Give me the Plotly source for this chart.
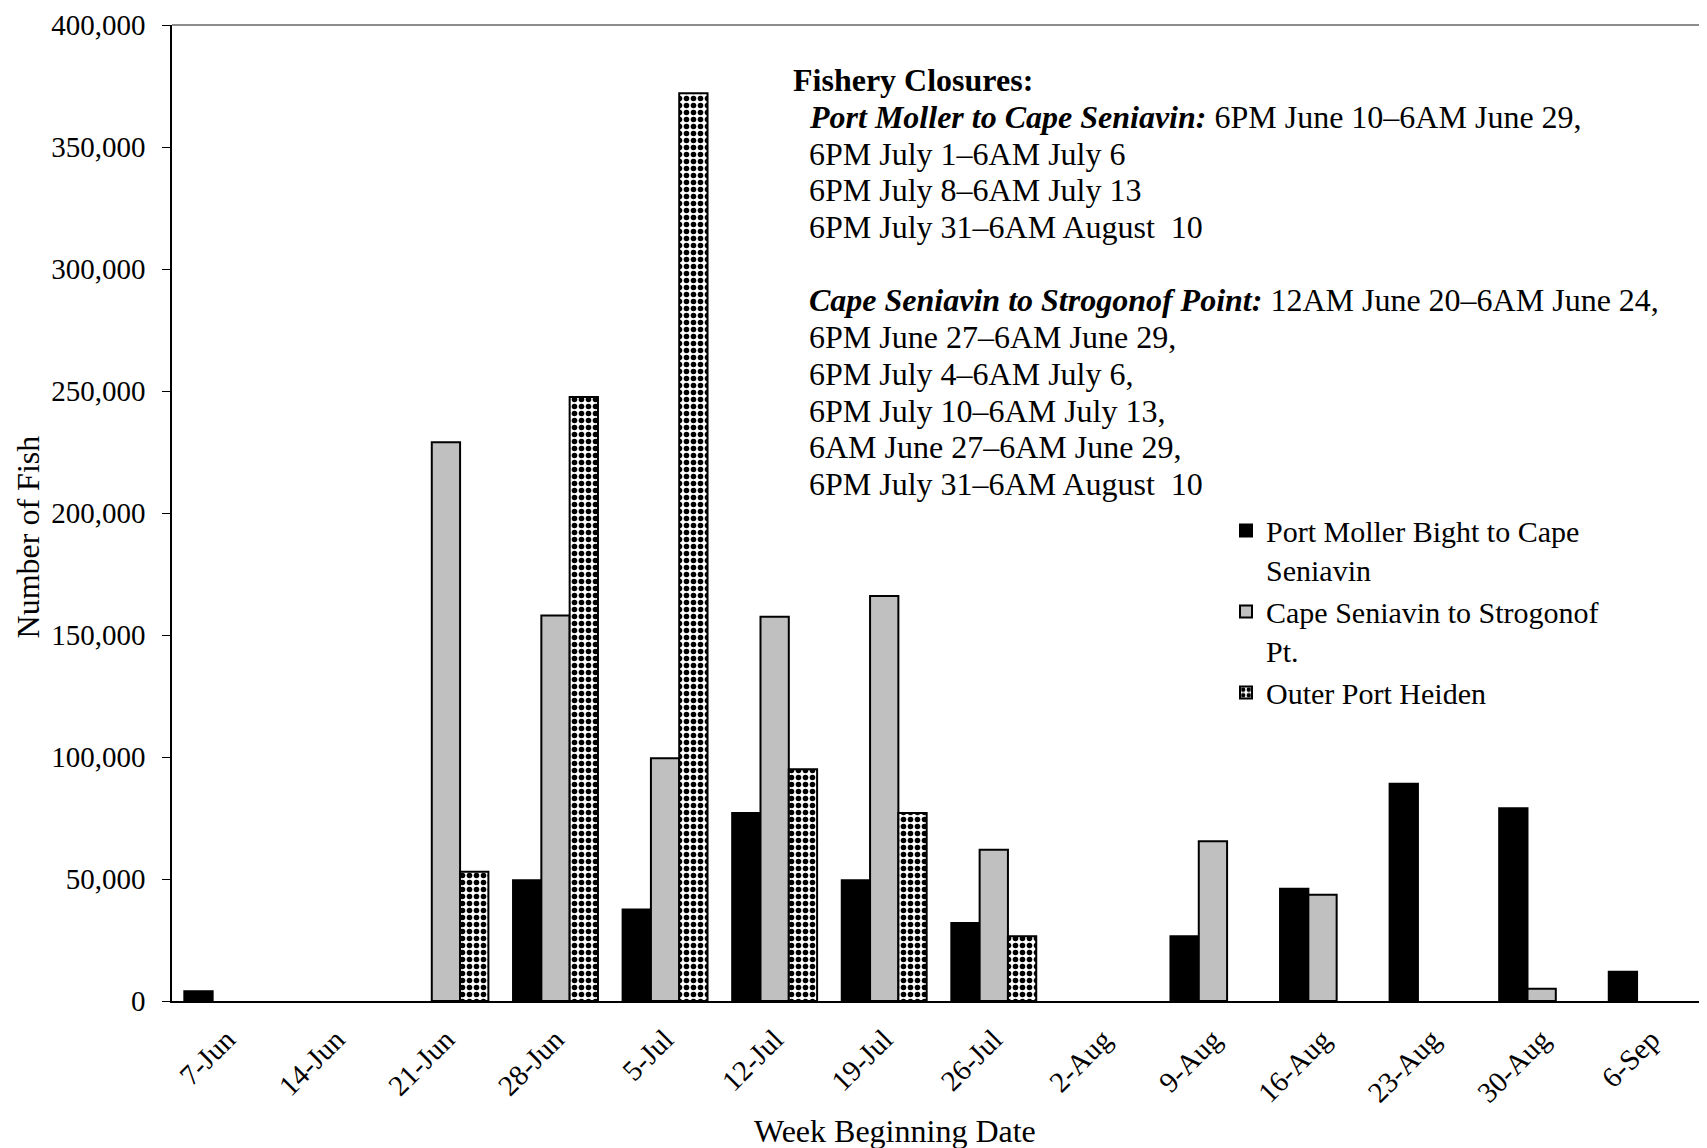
import plotly.graph_objects as go

weeks = ["7-Jun", "14-Jun", "21-Jun", "28-Jun", "5-Jul", "12-Jul", "19-Jul",
         "26-Jul", "2-Aug", "9-Aug", "16-Aug", "23-Aug", "30-Aug", "6-Sep"]
port_moller = [4000, None, None, 49500, 37500, 77000, 49500, 32000, None, 26500, 46000, 89000, 79000, 12000]
cape_seniavin = [None, None, 229000, 158000, 99500, 157500, 166000, 62000, None, 65500, 43500, None, 5000, None]
outer_port_heiden = [None, None, 53000, 247500, 372000, 95000, 77000, 26500, None, None, None, None, None, None]

series_names = ["Port Moller Bight to Cape<br>Seniavin", "Cape Seniavin to Strogonof<br>Pt.", "Outer Port Heiden"]
y_ticks = [0, 50000, 100000, 150000, 200000, 250000, 300000, 350000, 400000]

closure_lines = [
    ("<b>Fishery Closures:</b>", 0),
    ("<b><i>Port Moller to Cape Seniavin:</i></b> 6PM June 10\u20136AM June 29,", 1),
    ("6PM July 1\u20136AM July 6", 1),
    ("6PM July 8\u20136AM July 13", 1),
    ("6PM July 31\u20136AM August\u00a0 10", 1),
    ("", 1),
    ("<b><i>Cape Seniavin to Strogonof Point:</i></b> 12AM June 20\u20136AM June 24,", 1),
    ("6PM June 27\u20136AM June 29,", 1),
    ("6PM July 4\u20136AM July 6,", 1),
    ("6PM July 10\u20136AM July 13,", 1),
    ("6AM June 27\u20136AM June 29,", 1),
    ("6PM July 31\u20136AM August\u00a0 10", 1),
]

FONT = "Liberation Serif, Times New Roman, serif"
FS_TICK = 29
FS_TEXT = 32
FS_LEG = 30
# page has an 8px body margin, figure sized to fit the window
W, H = 1699, 1140
ML, MR, MT, MB = 164, 1, 14, 147
PW = W - ML - MR
PH = H - MT - MB

fig = go.Figure()
fig.add_trace(go.Bar(
    x=weeks, y=port_moller, name=series_names[0],
    marker=dict(color="black", line=dict(color="black", width=2)),
))
fig.add_trace(go.Bar(
    x=weeks, y=cape_seniavin, name=series_names[1],
    marker=dict(color="#C0C0C0", line=dict(color="black", width=2)),
))
fig.add_trace(go.Bar(
    x=weeks, y=outer_port_heiden, name=series_names[2],
    marker=dict(color="white", line=dict(color="black", width=2),
                pattern=dict(shape=".", fgcolor="black", bgcolor="white",
                             size=7, solidity=0.5, fillmode="replace")),
))

def px_to_paper_x(px):
    return (px - ML) / PW

def px_to_paper_y(py):
    return (H - MB - py) / PH

annotations = []
y0 = 69.5
dy = 36.8
for i, (txt, indent) in enumerate(closure_lines):
    if not txt:
        continue
    annotations.append(dict(
        text=txt, xref="paper", yref="paper",
        x=px_to_paper_x(783 + 16 * indent), y=px_to_paper_y(y0 + dy * i),
        xanchor="left", yanchor="middle", showarrow=False,
        font=dict(family=FONT, size=FS_TEXT, color="black"),
    ))

annotations.append(dict(
    text="Week Beginning Date", xref="paper", yref="paper",
    x=px_to_paper_x(887), y=px_to_paper_y(1123), xanchor="center", yanchor="middle",
    showarrow=False, font=dict(family=FONT, size=FS_TEXT, color="black"),
))
annotations.append(dict(
    text="Number of Fish", xref="paper", yref="paper", textangle=-90,
    x=px_to_paper_x(20), y=px_to_paper_y(528), xanchor="center", yanchor="middle",
    showarrow=False, font=dict(family=FONT, size=FS_TEXT, color="black"),
))

fig.update_layout(
    width=W, height=H,
    margin=dict(l=ML, r=MR, t=MT, b=MB, pad=0),
    paper_bgcolor="white", plot_bgcolor="white",
    barmode="group", bargap=0.225, bargroupgap=0,
    font=dict(family=FONT, size=FS_TEXT, color="black"),
    showlegend=True,
    legend=dict(x=px_to_paper_x(1218), y=px_to_paper_y(495), xanchor="left", yanchor="top",
                valign="top",
                bgcolor="rgba(0,0,0,0)", font=dict(family=FONT, size=FS_LEG, color="black"),
                tracegroupgap=0, itemsizing="constant"),
    annotations=annotations,
    shapes=[
        dict(type="line", xref="paper", yref="paper", x0=0, x1=1, y0=1, y1=1,
             line=dict(color="#8C8C8C", width=2)),
        dict(type="line", xref="paper", yref="paper", x0=1, x1=1, y0=0, y1=1,
             line=dict(color="#D9D9D9", width=1)),
    ],
)
fig.update_xaxes(
    type="category", tickangle=-45, showline=True, linecolor="black", linewidth=2,
    ticks="", showgrid=False, ticklabelstandoff=8,
    tickfont=dict(family=FONT, size=FS_TICK, color="black"),
)
fig.update_yaxes(
    range=[0, 400000], tickvals=y_ticks, tickformat=",", showline=True,
    linecolor="black", linewidth=1.5, ticks="outside", ticklen=8, tickcolor="black",
    showgrid=False, zeroline=False, ticklabelstandoff=11, ticklabeloverflow="allow",
    tickfont=dict(family=FONT, size=FS_TICK, color="black"),
)

fig.write_html("out.html")
